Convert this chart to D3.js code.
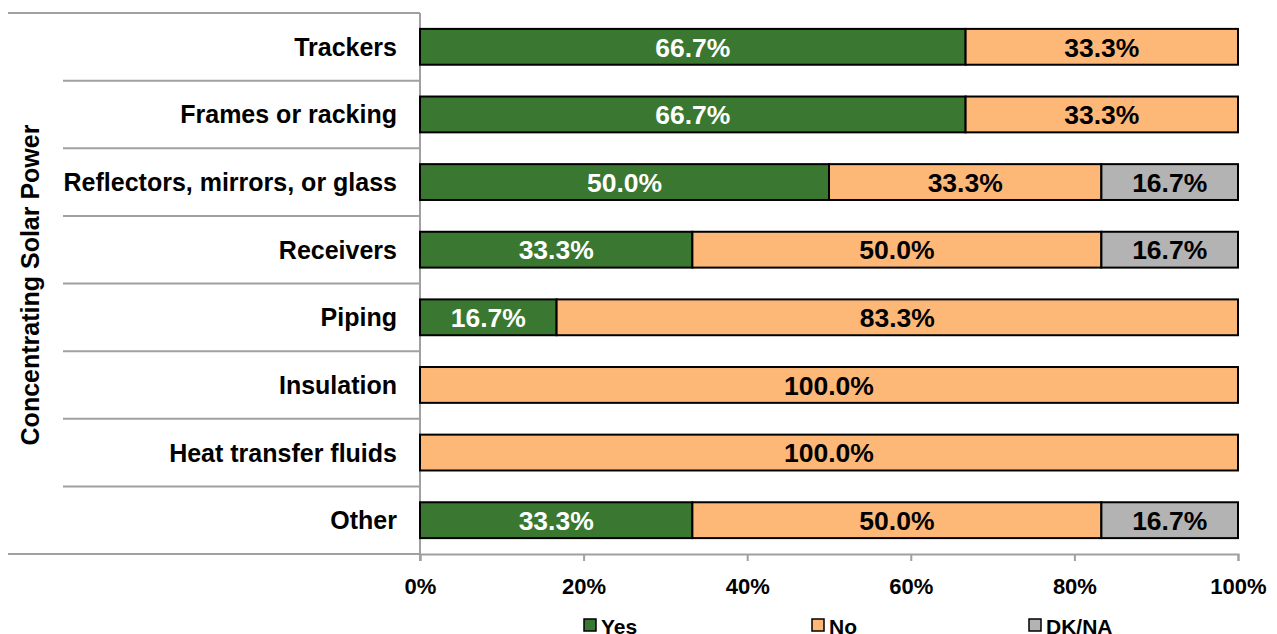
<!DOCTYPE html>
<html>
<head>
<meta charset="utf-8">
<script src="https://cdn.jsdelivr.net/npm/d3@7"></script>
<style>
  body { margin: 0; background: #fff; }
  svg text { font-family: "Liberation Sans", Arial, sans-serif; font-weight: bold; }
</style>
</head>
<body>
<svg id="chart" width="1277" height="634"></svg>
<script>
var categories = ["Trackers", "Frames or racking", "Reflectors, mirrors, or glass", "Receivers", "Piping", "Insulation", "Heat transfer fluids", "Other"];
var yesValues = [66.7, 66.7, 50.0, 33.3, 16.7, 0, 0, 33.3];
var noValues = [33.3, 33.3, 33.3, 50.0, 83.3, 100.0, 100.0, 50.0];
var dkValues = [0, 0, 16.7, 16.7, 0, 0, 0, 16.7];
var seriesNames = ["Yes", "No", "DK/NA"];
var seriesColors = ["#3a7730", "#fdb877", "#b3b3b3"];
var labelColors = ["#ffffff", "#000000", "#000000"];
var xTicks = [0, 20, 40, 60, 80, 100];
var groupTitle = "Concentrating Solar Power";

var svg = d3.select("#chart");
var plotLeft = 420, plotRight = 1238, plotTop = 13, plotBottom = 554;

var x = d3.scaleLinear().domain([0, 100]).range([plotLeft, plotRight]);
var y = d3.scaleBand().domain(categories).range([plotTop, plotBottom]).paddingInner(0.47).paddingOuter(0.235);
var rowStep = (plotBottom - plotTop) / categories.length;

// stacked data
var rows = categories.map(function(c, i) {
  return { cat: c, vals: [yesValues[i], noValues[i], dkValues[i]] };
});

// category row lines
var lineColor = "#a0a0a0";
for (var i = 0; i <= categories.length; i++) {
  var yy = plotTop + i * rowStep;
  var lx0 = (i === 0 || i === categories.length) ? 8 : 63;
  svg.append("line").attr("x1", lx0).attr("x2", plotLeft).attr("y1", yy).attr("y2", yy)
    .attr("stroke", lineColor).attr("stroke-width", 2);
}
// vertical axis line
svg.append("line").attr("x1", plotLeft).attr("x2", plotLeft).attr("y1", plotTop).attr("y2", plotBottom + 7)
  .attr("stroke", lineColor).attr("stroke-width", 2);

// x axis
var xAxis = svg.append("g").attr("transform", "translate(0," + plotBottom + ")")
  .call(d3.axisBottom(x).tickValues(xTicks).tickSize(7).tickPadding(17).tickFormat(function(d) { return d + "%"; }));
xAxis.selectAll("path, line").attr("stroke", lineColor).attr("stroke-width", 2);
xAxis.selectAll("text").attr("font-size", 22).attr("fill", "#000");

// category labels
svg.selectAll("text.cat").data(categories).enter().append("text")
  .attr("class", "cat")
  .attr("x", 397)
  .attr("y", function(d) { return y(d) + y.bandwidth() / 2; })
  .attr("dy", "0.36em")
  .attr("text-anchor", "end")
  .attr("font-size", 25)
  .text(function(d) { return d; });

// group title
svg.append("text")
  .attr("transform", "translate(30," + 285 + ") rotate(-90)")
  .attr("text-anchor", "middle")
  .attr("dy", "0.36em")
  .attr("font-size", 25)
  .text(groupTitle);

// bars
rows.forEach(function(r) {
  var acc = 0;
  r.vals.forEach(function(v, s) {
    if (v <= 0) return;
    var bx0 = x(acc), bx1 = x(acc + v);
    svg.append("rect")
      .attr("x", bx0).attr("y", y(r.cat))
      .attr("width", bx1 - bx0).attr("height", y.bandwidth())
      .attr("fill", seriesColors[s]).attr("stroke", "#000").attr("stroke-width", 2);
    svg.append("text")
      .attr("x", (bx0 + bx1) / 2)
      .attr("y", y(r.cat) + y.bandwidth() / 2)
      .attr("dy", "0.37em")
      .attr("text-anchor", "middle")
      .attr("font-size", 26.5)
      .attr("fill", labelColors[s])
      .text(v.toFixed(1) + "%");
    acc += v;
  });
});

// legend
var legendX = [584, 812, 1029];
seriesNames.forEach(function(n, i) {
  var g = svg.append("g").attr("transform", "translate(" + legendX[i] + ",619)");
  g.append("rect").attr("x", 0).attr("y", 0).attr("width", 12).attr("height", 12)
    .attr("fill", seriesColors[i]).attr("stroke", "#000").attr("stroke-width", 1.5);
  g.append("text").attr("x", 17).attr("y", 7).attr("dy", "0.36em")
    .attr("font-size", 21).text(n);
});
</script>
</body>
</html>
